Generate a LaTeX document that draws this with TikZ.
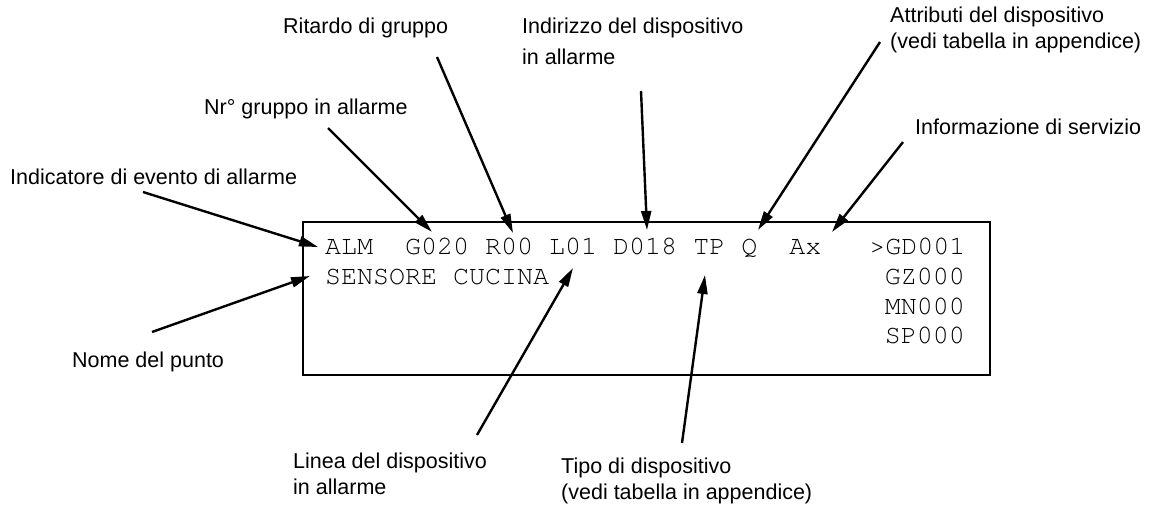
\documentclass[tikz,border=0pt]{standalone}
\usepackage{fontspec}
\setmainfont{Liberation Sans}
\newfontfamily\monof{TeX Gyre Cursor}
\usetikzlibrary{arrows.meta}
\begin{document}
\begin{tikzpicture}[x=1pt,y=-1pt,
  lbl/.style={anchor=base west,inner sep=0pt,font=\fontsize{21.5}{26}\selectfont},
  lcd/.style={anchor=base west,inner sep=0pt,font=\monof\fontsize{26.67}{29.5}\selectfont},
  lcdr/.style={anchor=base east,inner sep=0pt,font=\monof\fontsize{26.67}{29.5}\selectfont},
  pointer/.style={line width=2.4pt,-{Triangle[length=19pt,width=10pt]}},
  frame/.style={draw,line width=2.5pt}]
\useasboundingbox[fill=white] (0,0) rectangle (1150,510);
% display frame
\draw[frame] (303,222) rectangle (990,375);
\node[lcd] (row1) at (325,255) {ALM~~G020 R00 L01 D018 TP Q~~Ax~~~>GD001};
\node[lcd] (row2) at (325,284.5) {SENSORE CUCINA};
\node[lcdr] (row2r) at (965,284.5) {GZ000};
\node[lcdr] (row3) at (965,314) {MN000};
\node[lcdr] (row4) at (965,343.5) {SP000};
% labels (base = baseline of the last line)
\node[lbl] (lind) at (10,185) {Indicatore di evento di allarme};
\node[lbl] (lnr) at (204,115) {Nr° gruppo in allarme};
\node[lbl] (lrit) at (283,34) {Ritardo di gruppo};
\node[lbl,align=left] (ladd) at (522,65) {Indirizzo del dispositivo\\[5pt]in allarme};
\node[lbl,align=left] (latt) at (890,49) {Attributi del dispositivo\\(vedi tabella in appendice)};
\node[lbl] (linf) at (915,135) {Informazione di servizio};
\node[lbl] (lnom) at (72,367) {Nome del punto};
\node[lbl,align=left] (llin) at (293,494) {Linea del dispositivo\\in allarme};
\node[lbl,align=left] (ltip) at (561,499) {Tipo di dispositivo\\(vedi tabella in appendice)};
% connector ends
\coordinate (s1) at (143,192); \coordinate (t1) at (318,247);
\coordinate (s2) at (152,332); \coordinate (t2) at (310,276);
\coordinate (s3) at (328,128); \coordinate (t3) at (432,232);
\coordinate (s4) at (437,57);  \coordinate (t4) at (513,233);
\coordinate (s5) at (641,91);  \coordinate (t5) at (647,230);
\coordinate (s6) at (880,42);  \coordinate (t6) at (758,230);
\coordinate (s7) at (903,142); \coordinate (t7) at (832,232);
\coordinate (s8) at (477,435); \coordinate (t8) at (573,268);
\coordinate (s9) at (682,443); \coordinate (t9) at (705,275);
\foreach \i in {1,...,9} {\draw[pointer] (s\i) -- (t\i);}
\end{tikzpicture}
\end{document}
